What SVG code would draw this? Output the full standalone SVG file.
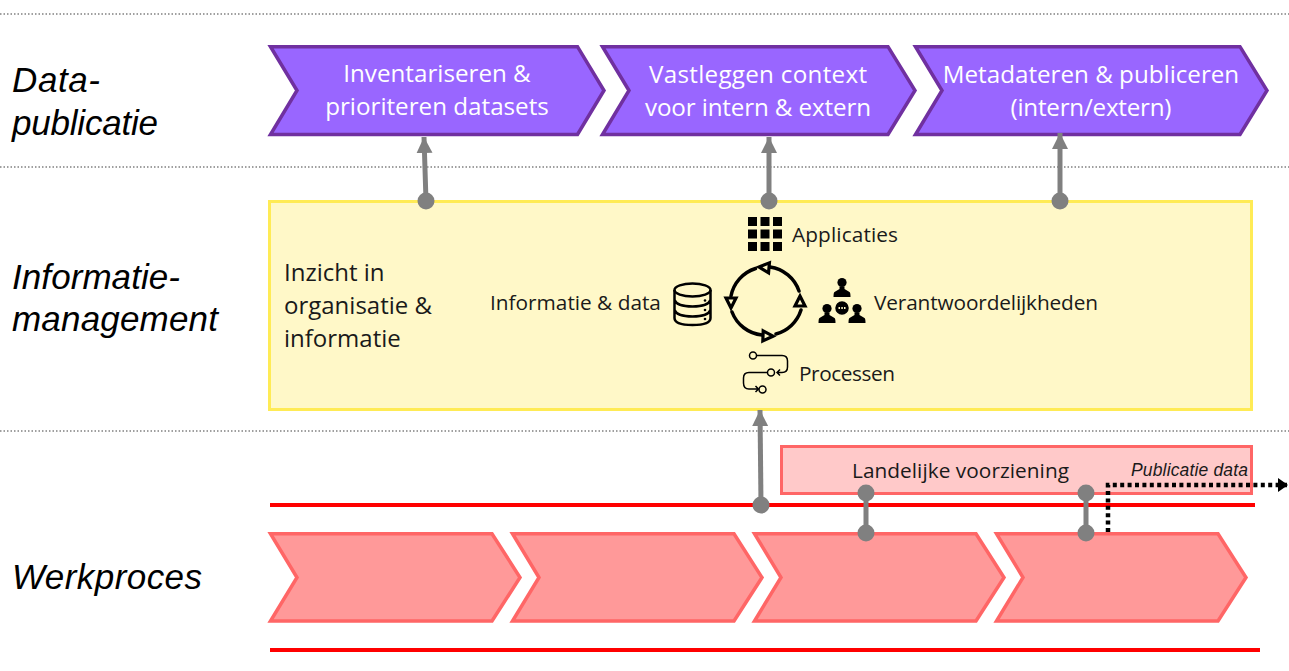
<svg xmlns="http://www.w3.org/2000/svg" width="1289" height="671" viewBox="0 0 1289 671">
<style>
text{font-family:"Open Sans","Noto Sans","DejaVu Sans",sans-serif;fill:#1a1a1a}
.lane{font-family:"Liberation Sans",Arial,sans-serif;font-style:italic;font-size:35px;fill:#000}
.pu{fill:#9966FF;stroke:#7030A0;stroke-width:3.5}
.re{fill:#FF9999;stroke:#FF6666;stroke-width:3.5}
.wt{fill:#fff;font-size:24.2px;text-anchor:middle}
.lb{font-size:20.8px}
.big{font-size:24px}
.sep{stroke:#808080;stroke-width:1.3;stroke-dasharray:1.5 2;fill:none}
.con{stroke:#808080;stroke-width:5;fill:none}
.dot{fill:#808080}
.rl{stroke:#FF0000;stroke-width:4}
.ik{fill:none;stroke:#000;stroke-linecap:round}
</style>
<defs>
<marker id="ah" markerUnits="userSpaceOnUse" markerWidth="18" markerHeight="18" refX="16" refY="8" orient="auto"><path d="M0 0L16 8L0 16Z" fill="#808080"/></marker>
<marker id="bh" markerUnits="userSpaceOnUse" markerWidth="12" markerHeight="14" refX="10" refY="7" orient="auto"><path d="M0 0L10 7L0 14Z" fill="#000"/></marker>
<g id="user"><circle cx="0" cy="-6" r="4.6" fill="#000"/><path d="M-2.500 -2V0.500L-7.500 3.500Q-8.500 4.200 -8.500 8.500H8.500Q8.500 4.200 7.500 3.500L2.500 0.500V-2Z" fill="#000"/></g>
<path id="tri" d="M0 -6L5 4H-5Z" fill="#FFF8C8" stroke="#000" stroke-width="3.2" stroke-linejoin="miter"/>
</defs>
<rect width="1289" height="671" fill="#fff"/>
<g id="separators">
<path class="sep" d="M0 14H1289M0 167H1289M0 431H1289"/>
<path class="rl" d="M270 505H1255M270 650H1260"/>
</g>
<g id="lanes">
<text class="lane" x="12" y="92" textLength="88">Data-</text><text class="lane" x="12" y="135" textLength="146">publicatie</text>
<text class="lane" x="12" y="289" textLength="168">Informatie-</text><text class="lane" x="12" y="331" textLength="206">management</text>
<text class="lane" x="12" y="589" textLength="190">Werkproces</text>
</g>
<g id="node-inventariseren"><path class="pu" d="M270.500 46.700H577.500L604 90.500L577.500 134.500H270.500L297 90.500Z"/><text class="wt" x="437" y="82">Inventariseren &amp;</text><text class="wt" x="437" y="115">prioriteren datasets</text></g>
<g id="node-vastleggen"><path class="pu" d="M602.500 46.700H888L915 90.500L888 134.500H602.500L629 90.500Z"/><text class="wt" x="758" y="83" textLength="218">Vastleggen context</text><text class="wt" x="758" y="116" textLength="226">voor intern &amp; extern</text></g>
<g id="node-metadateren"><path class="pu" d="M915.500 46.700H1240L1267 90.500L1240 134.500H915.500L942 90.500Z"/><text class="wt" x="1091" y="83">Metadateren &amp; publiceren</text><text class="wt" x="1091" y="116" textLength="161">(intern/extern)</text></g>
<g id="node-inzicht"><rect x="269.500" y="201.500" width="982" height="208" fill="#FFF8C8" stroke="#FFEB55" stroke-width="3"/>
<text class="big" x="284" y="281">Inzicht in</text><text class="big" x="284" y="314">organisatie &amp;</text><text class="big" x="284" y="347">informatie</text></g>
<g id="node-applicaties">
<path d="M748 217h9v9h-9zM760.500 217h9v9h-9zM773 217h9v9h-9zM748 229.500h9v9h-9zM760.500 229.500h9v9h-9zM773 229.500h9v9h-9zM748 242h9v9h-9zM760.500 242h9v9h-9zM773 242h9v9h-9z" fill="#000"/>
<text class="lb" x="792" y="242" textLength="106">Applicaties</text></g>
<g id="node-cycle">
<path class="ik" stroke-width="3.500" d="M755.500 268.500A36 36 0 0 0 731 296M732 312A36 36 0 0 0 762 335M776 334A36 36 0 0 0 801 310M799 291A36 36 0 0 0 770 267"/>
<use href="#tri" transform="translate(765 267.500) rotate(-85)"/>
<use href="#tri" transform="translate(731 302) rotate(180)"/>
<use href="#tri" transform="translate(767 336) rotate(92)"/>
<use href="#tri" transform="translate(800 302)"/>
</g>
<g id="node-informatie"><text class="lb" x="490" y="310">Informatie &amp; data</text>
<g fill="none" stroke="#000" stroke-width="2.500"><ellipse cx="692.500" cy="290" rx="18" ry="6.500"/><path d="M674.500 290V318Q674.500 325 692.500 325T710.500 318V290M674.500 300Q677 306.500 692.500 306.500T710.500 300M674.500 310Q677 316.500 692.500 316.500T710.500 310"/></g>
<g fill="#000"><circle cx="705" cy="300.500" r="1.300"/><circle cx="705" cy="310" r="1.300"/><circle cx="705" cy="319" r="1.300"/></g></g>
<g id="node-verantwoordelijkheden">
<use href="#user" transform="translate(842 288.500)"/><use href="#user" transform="translate(827 314.500)"/><use href="#user" transform="translate(857 314.500)"/>
<circle cx="842" cy="308" r="7.500" fill="#000" stroke="#FFF8C8" stroke-width="1.500"/><path d="M838.500 308h1.500M841.300 308h1.500M844 308h1.500" stroke="#FFF8C8" stroke-width="2"/>
<text class="lb" x="874" y="310" textLength="224">Verantwoordelijkheden</text></g>
<g id="node-processen">
<g fill="none" stroke="#000" stroke-width="1.500"><circle cx="753" cy="355.500" r="3.500"/><circle cx="771" cy="372.500" r="3.500"/><circle cx="762.500" cy="389.500" r="3.500"/>
<path d="M756.500 355.500H782Q787.500 355.500 787.500 361V367Q787.500 372.500 782 372.500H777M780 369.500L777 372.500L780 375.500M767.500 372.500H749Q743.500 372.500 743.500 378V383Q743.500 389 749 389H758.500M755.500 386L758.500 389L755.500 392"/></g>
<text class="lb" x="799" y="381" textLength="96">Processen</text></g>
<g id="node-landelijke"><rect x="781.500" y="446.500" width="470" height="47" fill="#FFC9C9" stroke="#FF6666" stroke-width="3"/>
<text class="lb" x="852" y="478" textLength="217">Landelijke voorziening</text>
<text x="1131" y="476" font-size="17.500" font-style="italic" style="font-family:'Liberation Sans',Arial,sans-serif" fill="#000" textLength="117">Publicatie data</text></g>
<g id="node-w1"><path class="re" d="M270.500 533.700H492L520 577.500L492 621H270.500L297 577.500Z"/></g>
<g id="node-w2"><path class="re" d="M512.500 533.700H734L762 577.500L734 621H512.500L539 577.500Z"/></g>
<g id="node-w3"><path class="re" d="M754.500 533.700H976L1004 577.500L976 621H754.500L781 577.500Z"/></g>
<g id="node-w4"><path class="re" d="M996.500 533.700H1218L1246 577.500L1218 621H996.500L1023 577.500Z"/></g>
<g id="connectors">
<path class="con" d="M426 201L424 137" marker-end="url(#ah)"/>
<path class="con" d="M769 201V137" marker-end="url(#ah)"/>
<path class="con" d="M1060 201V133" marker-end="url(#ah)"/>
<path class="con" d="M761 505L760 410" marker-end="url(#ah)"/>
<path class="con" d="M866 493V533M1086 493V533"/>
<g class="dot"><circle cx="426" cy="201" r="8.500"/><circle cx="769" cy="201" r="8.500"/><circle cx="1060" cy="201" r="8.500"/><circle cx="761" cy="505" r="8.500"/><circle cx="866" cy="493" r="8.500"/><circle cx="866" cy="533" r="8.500"/><circle cx="1086" cy="493" r="8.500"/><circle cx="1086" cy="533" r="8.500"/></g>
<path d="M1108 532V485H1288" fill="none" stroke="#000" stroke-width="4.500" stroke-dasharray="4 3.400" marker-end="url(#bh)"/>
</g>
</svg>
